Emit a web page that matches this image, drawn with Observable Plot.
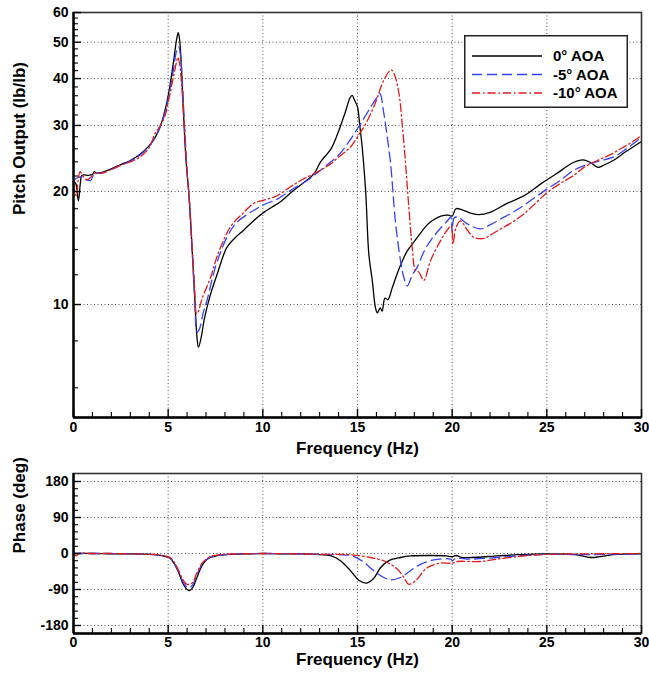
<!DOCTYPE html>
<html>
<head>
<meta charset="utf-8">
<script src="https://cdn.jsdelivr.net/npm/d3@7"></script>
<script src="https://cdn.jsdelivr.net/npm/@observablehq/plot@0.6"></script>
<style>
  body { margin: 0; background: #fff; }
  #chart { position: relative; width: 649px; height: 677px; font-family: "Liberation Sans", Arial, sans-serif; }
  #chart svg { display: block; }
  #legend { position: absolute; left: 464px; top: 35px; }
</style>
</head>
<body>
<div id="chart"></div>
<script>
// Axis tick values
const freqTicks = [0, 5, 10, 15, 20, 25, 30];
const freqGrid = [5, 10, 15, 20, 25];
const pitchTicks = [10, 20, 30, 40, 50, 60];
const pitchGrid = [10, 20, 30, 40, 50];
const phaseTicks = [-180, -90, 0, 90, 180];

// Series names (angle of attack)
const seriesNames = ["0\u00b0 AOA", "-5\u00b0 AOA", "-10\u00b0 AOA"];

// Pitch output magnitude, [frequency Hz, lb/lb]
const pitch0 = [
  [0,21.3],[0.12,21.0],[0.26,18.9],[0.36,21.0],[0.45,22.1],[0.8,22.1],[1.0,22.2],[1.1,22.6],[1.2,22.4],
  [1.5,22.5],[2.0,23.0],[2.5,23.6],[3.0,24.2],[3.5,25.1],[4.0,26.5],[4.3,27.8],[4.6,30.0],[4.9,34.0],
  [5.1,38.5],[5.3,45],[5.45,51],[5.53,53],[5.6,51],[5.7,43],[5.8,33],[5.95,24],[6.1,19.6],[6.25,14.5],
  [6.4,10.5],[6.52,8.2],[6.6,7.7],[6.75,8.2],[6.9,9.1],[7.2,10.5],[7.6,12.1],[8.1,14.2],[8.5,15.0],
  [9.0,15.8],[9.5,16.7],[10.05,17.6],[10.5,18.2],[11.0,18.9],[11.6,20.1],[12.2,21.2],[12.7,22.3],
  [13.05,24.0],[13.6,26.0],[13.95,28.5],[14.35,32.5],[14.6,35.5],[14.72,36.1],[14.85,35],[15.0,33.6],
  [15.12,30],[15.25,26.2],[15.43,20.1],[15.6,13.6],[15.78,11.6],[15.95,9.8],[16.05,9.5],[16.2,9.8],
  [16.3,9.6],[16.45,10.4],[16.6,10.3],[16.84,11.1],[17.1,12.1],[17.35,13.0],[17.63,13.9],[17.9,14.5],
  [18.16,15.1],[18.68,16.3],[19.0,16.8],[19.4,17.2],[19.8,17.3],[20.0,17.2],[20.2,18.0],[20.5,17.9],
  [21.0,17.5],[21.4,17.35],[22.0,17.6],[22.9,18.6],[23.8,19.5],[24.7,21.0],[25.5,22.3],[26.4,23.9],
  [26.9,24.3],[27.3,23.9],[27.7,23.2],[28.0,23.5],[28.5,24.2],[29.2,25.6],[30,27.2]
];
const pitch5 = [
  [0,21.3],[0.1,21.6],[0.25,21.8],[0.4,21.9],[0.6,21.6],[0.9,21.4],[1.1,22.3],[1.5,22.4],[2.0,22.9],
  [2.5,23.5],[3.0,24.1],[3.5,25.0],[4.0,26.4],[4.3,27.8],[4.6,29.9],[4.9,33.5],[5.1,37.5],[5.3,43],
  [5.45,47.5],[5.56,48.6],[5.65,46],[5.75,39],[5.85,31],[6.0,22.5],[6.1,19.6],[6.25,14.5],[6.4,10.5],
  [6.53,8.45],[6.65,8.6],[6.85,9.5],[7.06,10.3],[7.5,12.6],[8.1,15.1],[8.6,16.5],[9.5,17.8],[10.1,18.5],
  [10.76,19.1],[11.5,20.2],[12.4,21.5],[13.05,22.8],[13.5,23.8],[14.0,25.0],[14.6,27.4],[15.16,30.3],
  [15.7,33.6],[16.0,35.5],[16.18,36.5],[16.39,32.3],[16.57,28],[16.75,23.7],[17.0,16.7],[17.27,13.1],
  [17.45,11.8],[17.63,11.2],[17.9,12.0],[18.16,12.6],[18.5,13.8],[18.86,14.8],[19.3,15.8],[19.74,16.7],
  [19.92,17.1],[20.0,15.6],[20.1,17.0],[20.27,17.1],[20.8,16.4],[21.5,15.9],[22.0,16.3],[22.56,16.9],
  [23.2,17.6],[23.8,18.4],[25.0,20.3],[25.7,21.4],[26.4,22.75],[27.0,23.5],[27.6,24.0],[28.5,24.7],
  [29.2,26.0],[30,27.9]
];
const pitch10 = [
  [0,21.0],[0.08,19.8],[0.15,19.5],[0.25,21.5],[0.35,22.6],[0.5,22.0],[0.7,21.5],[0.9,21.8],[1.1,22.4],
  [1.5,22.4],[2.0,22.9],[2.5,23.5],[3.0,24.0],[3.5,24.7],[4.0,26.2],[4.3,28.5],[4.5,29.5],[4.8,31.5],
  [5.1,36.5],[5.3,41],[5.45,44.5],[5.51,45.6],[5.6,44],[5.72,38],[5.85,30],[6.0,22.5],[6.1,19.5],
  [6.25,14.8],[6.4,11.0],[6.5,9.45],[6.6,9.6],[6.8,10.4],[7.24,11.8],[7.6,13.5],[8.29,16.1],[9.0,17.6],
  [9.52,18.6],[10.1,19.0],[10.76,19.5],[11.4,20.5],[12.0,21.4],[13.05,22.8],[13.58,23.7],[14.0,24.7],
  [14.63,26.3],[15.16,28.8],[15.34,29.7],[15.9,34],[16.39,39.6],[16.78,42.2],[16.95,41],[17.19,36.5],
  [17.36,30.3],[17.54,23.7],[17.71,18.2],[17.89,14.2],[18.07,12.3],[18.24,12.2],[18.5,11.6],[18.86,13.1],
  [19.39,14.8],[19.74,15.8],[19.95,16.2],[20.04,14.5],[20.2,16.0],[20.44,16.7],[20.8,15.8],[21.15,15.1],
  [21.67,15.0],[22.0,15.3],[22.56,15.9],[23.2,16.6],[23.79,17.45],[24.4,18.6],[25.02,19.9],[25.7,21.0],
  [26.43,22.1],[26.96,23.2],[27.67,24.2],[28.3,25.0],[28.9,26.0],[29.5,27.1],[30,28.2]
];

// Phase, [frequency Hz, degrees]
const phase0 = [
  [0,0],[1,0],[2,-1],[3,-1],[4,-2],[4.5,-4],[4.8,-7],[5.1,-12],[5.35,-28],[5.55,-47],[5.8,-77],[6.0,-90],
  [6.13,-93],[6.3,-85],[6.52,-60],[6.78,-31],[7.0,-17],[7.22,-10],[7.6,-5],[8,-3],[9,-1],[10,0],[11,-1],
  [12,-1],[13,-3],[13.6,-6],[14.1,-18],[14.63,-43],[15.07,-67],[15.48,-74],[15.86,-62],[16.22,-35],
  [16.66,-18],[17.27,-10],[17.8,-6],[18.9,-5],[19.7,-6],[20.0,-8],[20.2,-5],[20.5,-10],[21.0,-10],
  [22.4,-6],[23.5,-3],[25,-1],[26.5,-3],[27.3,-10],[27.8,-8],[28.5,-3],[30,-1]
];
const phase5 = [
  [0,0],[1,0],[2,0],[3,-1],[4,-2],[4.5,-4],[4.8,-6],[5.1,-12],[5.35,-27],[5.55,-45],[5.8,-72],[6.0,-84],
  [6.1,-86],[6.3,-78],[6.5,-55],[6.78,-28],[7.0,-16],[7.22,-9],[7.6,-5],[8,-3],[9,-1],[10,0],[12,-1],
  [13,-2],[14.0,-3],[14.63,-5],[15.0,-12],[15.34,-22],[15.86,-43],[16.39,-60],[16.75,-66],[17.27,-60],
  [17.8,-43],[18.33,-27],[19.04,-16],[19.92,-14],[20.0,-18],[20.2,-12],[20.97,-14],[22.38,-10],
  [23.79,-5],[25,-2],[27,-3],[28,-2],[30,-1]
];
const phase10 = [
  [0,-2],[0.15,-6],[0.3,0],[1,0],[2,0],[3,-1],[4,-2],[4.5,-3],[4.8,-6],[5.1,-10],[5.35,-24],[5.55,-42],
  [5.8,-67],[6.0,-77],[6.15,-76],[6.3,-72],[6.5,-50],[6.78,-25],[7.0,-14],[7.22,-8],[7.6,-4],[8,-2],
  [9,-1],[10,0],[12,-1],[13,-2],[14.63,-3],[15.69,-10],[16.48,-20],[17.1,-39],[17.45,-60],[17.71,-77],
  [18.16,-64],[18.5,-43],[18.86,-31],[19.39,-24],[20.0,-24],[20.27,-20],[21.5,-20],[22.38,-14],
  [23.79,-6],[25,-2],[27,-1],[30,0]
];

// Line styles per series: solid black, dashed blue, dash-dot red
const styles = [
  {stroke: "#000000", dash: null, width: 1.3},
  {stroke: "#3340ff", dash: "10,5", width: 1.3},
  {stroke: "#e41a1a", dash: "8,3,1.5,3", width: 1.3}
];

const W = 649, ML = 73, MR = 8;
const fontFamily = "'Liberation Sans', Arial, Helvetica, sans-serif";
const F = d => d[0], V = d => d[1];

function curveMarks(sets) {
  return sets.map((data, i) => Plot.line(data, {
    x: F, y: V, stroke: styles[i].stroke, strokeWidth: styles[i].width,
    strokeDasharray: styles[i].dash, curve: "catmull-rom"
  }));
}

// Inward-pointing tick marks along the left and bottom edges
function edgeTicks(frameW, frameH, yMajor, yMinor, xMajor, xMinor) {
  return [
    Plot.tickY(yMajor, {y: d => d, insetRight: frameW - 8, stroke: "#000", strokeWidth: 1.4}),
    Plot.tickY(yMinor, {y: d => d, insetRight: frameW - 5, stroke: "#000", strokeWidth: 1.1}),
    Plot.tickX(xMajor, {x: d => d, insetTop: frameH - 8, stroke: "#000", strokeWidth: 1.4}),
    Plot.tickX(xMinor, {x: d => d, insetTop: frameH - 5, stroke: "#000", strokeWidth: 1.1})
  ];
}

const baseStyle = {fontFamily, fontWeight: "bold", fontSize: "14px", color: "#000", background: "#fff", overflow: "visible"};
const gridStyle = {stroke: "#555", strokeOpacity: 1, strokeWidth: 1, strokeDasharray: "1,2.5"};

// ---- Magnitude panel ----
const topH = 463, topMT = 12, topMB = 46;
const topFrameH = topH - topMT - topMB, frameW = W - ML - MR;
const pitchMinor = d3.range(6, 60, 2).filter(v => v % 10 !== 0);
const freqMinor = d3.range(0, 31).filter(f => f % 5 !== 0);

const topPlot = Plot.plot({
  width: W, height: topH, marginLeft: ML, marginRight: MR, marginTop: topMT, marginBottom: topMB,
  style: baseStyle,
  x: {domain: [0, 30]},
  y: {type: "log", domain: [5, 60]},
  marks: [
    Plot.gridX(freqGrid, gridStyle),
    Plot.gridY(pitchGrid, gridStyle),
    ...curveMarks([pitch0, pitch5, pitch10]),
    Plot.frame({stroke: "#333", strokeWidth: 1.6}),
    Plot.ruleX([0], {stroke: "#000", strokeWidth: 2.4}),
    Plot.ruleY([5], {stroke: "#000", strokeWidth: 2.4}),
    ...edgeTicks(frameW, topFrameH, pitchTicks, pitchMinor, freqTicks, freqMinor),
    Plot.axisX({ticks: freqTicks, tickSize: 0, tickPadding: 5, tickFormat: d => d, label: null, fontSize: 14}),
    Plot.axisY({ticks: pitchTicks, tickSize: 0, tickPadding: 5, tickFormat: d => d, label: null, fontSize: 14}),
    Plot.text(["Frequency (Hz)"], {text: d => d, frameAnchor: "bottom", dy: 36, fontSize: 17, fontWeight: "bold"}),
    Plot.text(["Pitch Output (lb/lb)"], {text: d => d, frameAnchor: "left", dx: -54, rotate: -90, fontSize: 17, fontWeight: "bold"})
  ]
});

// ---- Phase panel ----
const botH = 214, botMT = 10, botMB = 44;
const botFrameH = botH - botMT - botMB;
const phaseMinor = d3.range(-180, 181, 18).filter(v => v % 90 !== 0);

const botPlot = Plot.plot({
  width: W, height: botH, marginLeft: ML, marginRight: MR, marginTop: botMT, marginBottom: botMB,
  style: baseStyle,
  x: {domain: [0, 30]},
  y: {domain: [-200, 200]},
  marks: [
    Plot.gridX(freqGrid, gridStyle),
    Plot.gridY(phaseTicks, gridStyle),
    ...curveMarks([phase0, phase5, phase10]),
    Plot.frame({stroke: "#333", strokeWidth: 1.6}),
    Plot.ruleX([0], {stroke: "#000", strokeWidth: 2.4}),
    Plot.ruleY([-200], {stroke: "#000", strokeWidth: 2.4}),
    ...edgeTicks(frameW, botFrameH, phaseTicks, phaseMinor, freqTicks, freqMinor),
    Plot.axisX({ticks: freqTicks, tickSize: 0, tickPadding: 4, tickFormat: d => d, label: null, fontSize: 14}),
    Plot.axisY({ticks: phaseTicks, tickSize: 0, tickPadding: 5, tickFormat: d => d, label: null, fontSize: 14}),
    Plot.text(["Frequency (Hz)"], {text: d => d, frameAnchor: "bottom", dy: 31, fontSize: 17, fontWeight: "bold"}),
    Plot.text(["Phase (deg)"], {text: d => d, frameAnchor: "left", dx: -54, rotate: -90, fontSize: 17, fontWeight: "bold"})
  ]
});

const chart = document.getElementById("chart");
chart.appendChild(topPlot);
chart.appendChild(botPlot);

// ---- Legend box ----
const lg = d3.select(chart).append("svg").attr("id", "legend")
  .attr("width", 164).attr("height", 73)
  .style("font-family", fontFamily).style("font-weight", "bold");
lg.append("rect").attr("x", 0.75).attr("y", 0.75).attr("width", 162.5).attr("height", 71.5)
  .attr("fill", "#fff").attr("stroke", "#222").attr("stroke-width", 1.5);
seriesNames.forEach((name, i) => {
  const cy = 21 + i * 18.5;
  lg.append("line").attr("x1", 8).attr("x2", 78).attr("y1", cy).attr("y2", cy)
    .attr("stroke", styles[i].stroke).attr("stroke-width", styles[i].width)
    .attr("stroke-dasharray", styles[i].dash);
  lg.append("text").attr("x", 89).attr("y", cy).attr("dy", "0.36em")
    .attr("font-size", 15).attr("fill", "#000").text(name);
});
</script>
</body>
</html>
